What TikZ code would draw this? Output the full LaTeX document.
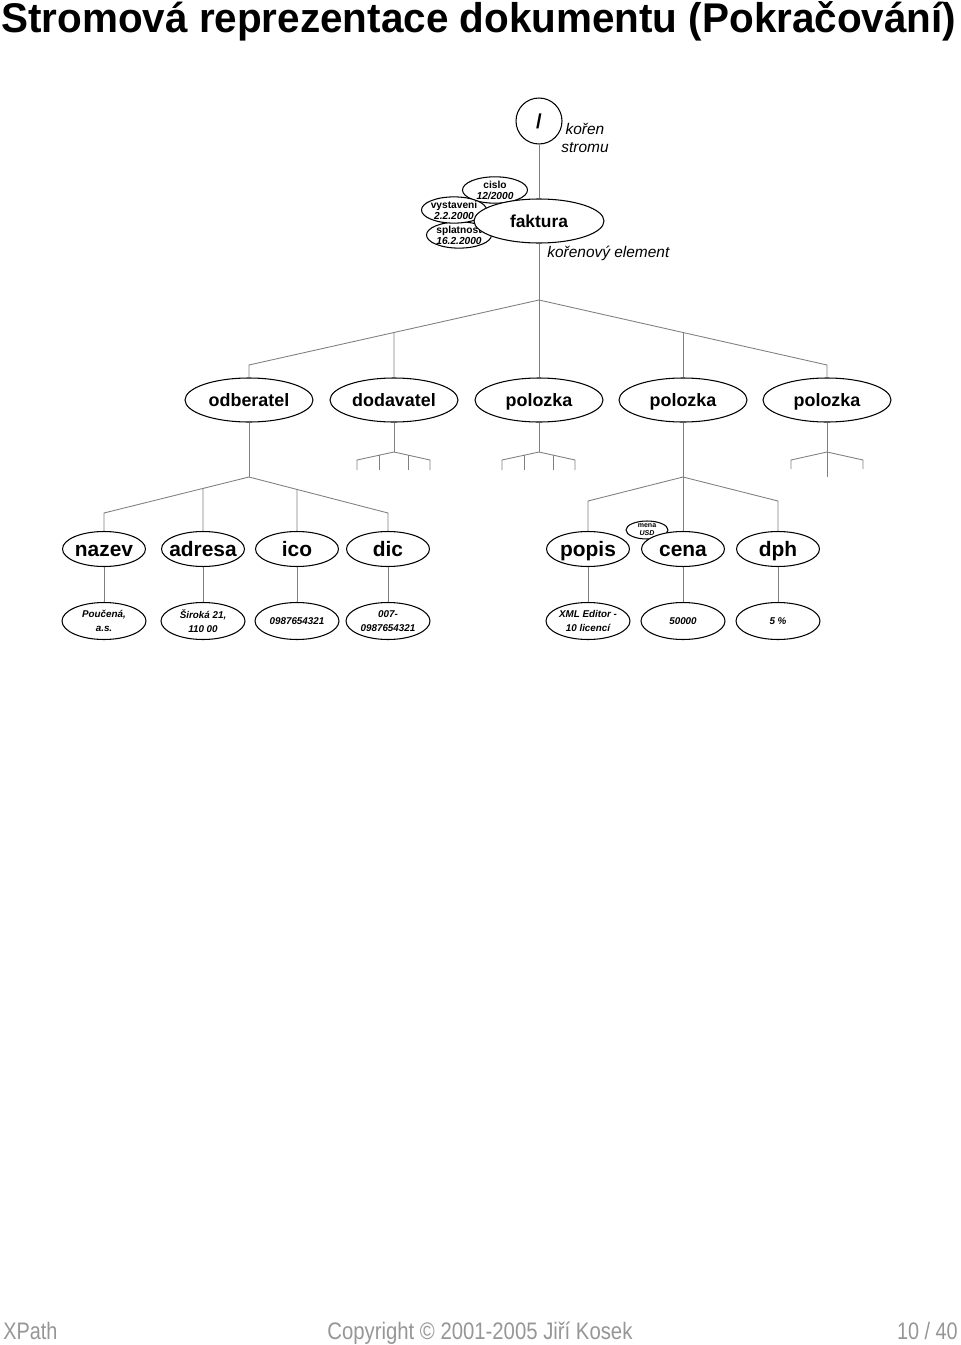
\documentclass[tikz,border=0pt]{standalone}
\usepackage{graphicx}
\usepackage{fontspec}
\setmainfont{Liberation Sans}
\usetikzlibrary{shapes.geometric, calc}
\usepackage{xcolor}
\definecolor{linkcolor}{RGB}{128,128,128}
\definecolor{footcolor}{RGB}{150,150,150}

\begin{document}
\begin{tikzpicture}[x=0.02cm,y=-0.02cm]
  \tikzset{
    elem/.style={
      ellipse, draw, fill=white,
      line width=0.6pt, inner xsep=-6pt, inner ysep=0pt,
      minimum width=2.56cm,
      minimum height=0.88cm,
      text height=0.94em, text depth=0.2em,
      font=\bfseries\fontsize{10.2}{12}\selectfont
    },
    child/.style={
      ellipse, draw, fill=white,
      line width=0.6pt, inner xsep=-8pt, inner ysep=-3pt,
      minimum width=1.66cm,
      minimum height=0.7cm,
      text height=1.0em, text depth=0.2em,
      font=\bfseries\fontsize{11.9}{13}\selectfont
    },
    value/.style={
      ellipse, draw, fill=white,
      line width=0.6pt, inner xsep=-6pt, inner ysep=0pt,
      minimum width=1.68cm,
      minimum height=0.74cm,
      align=center,
      font=\bfseries\itshape\fontsize{5.6}{8}\selectfont
    },
    attr/.style={
      ellipse, draw, fill=white,
      line width=0.6pt, inner xsep=-4pt, inner ysep=0pt,
      minimum width=1.3cm,
      minimum height=0.5cm,
      align=center,
      font=\bfseries\fontsize{5.8}{6.3}\selectfont
    },
    note/.style={
      font=\itshape\fontsize{8.8}{10.2}\selectfont,
      align=center, inner sep=0pt
    },
    footer/.style={
      anchor=base, inner sep=0pt, text=footcolor,
      font=\fontsize{13.6}{15}\selectfont
    },
    link/.style={draw=linkcolor, line width=0.5pt}
  }
  \useasboundingbox (0,0) rectangle (960,1345);

  % Title
  \node[anchor=base west, inner sep=0pt] (title) at (1,33)
    {\resizebox{19.1cm}{0.62cm}{\bfseries Stromová reprezentace dokumentu (Pokračování)}};

  % Root of the tree
  \node[circle, draw, line width=0.6pt, minimum size=0.92cm, inner sep=0pt,
        font=\bfseries\fontsize{11.5}{12}\selectfont] (root) at (539,121) {/};
  \node[note] (rootnote) at (585,138) {kořen\\stromu};

  % Attributes of the root element
  \node[attr] (cislo) at (495,190) {cislo\\\textit{12/2000}};
  \node[attr] (splatnost) at (459,235) {splatnost\\\textit{16.2.2000}};
  \node[attr, minimum height=0.52cm] (vystaveni) at (454,210) {vystaveni\\\textit{2.2.2000}};

  % Root element
  \node[elem, minimum width=2.6cm, text height=0.72em, text depth=0em,
        font=\bfseries\fontsize{9.9}{12}\selectfont] (faktura) at (539,221) {faktura};
  \node[note, anchor=base west] (fakturanote) at (547,257) {kořenový element};

  \draw[link] (root) -- (faktura);

  % First level
  \node[elem] (odberatel) at (249,400) {odberatel};
  \node[elem] (dodavatel) at (394,400) {dodavatel};
  \node[elem] (polozkaA) at (539,400) {polozka};
  \node[elem] (polozkaB) at (683,400) {polozka};
  \node[elem] (polozkaC) at (827,400) {polozka};

  \coordinate (fk) at (539,300);
  \coordinate (fkL) at (249,365);
  \coordinate (fkR) at (827,365);
  \draw[link] (faktura) -- (fk);
  \draw[link] (odberatel) -- (fkL) -- (fk) -- (fkR) -- (polozkaC);
  \draw[link] (dodavatel) -- ($(fk)!0.5!(fkL)$);
  \draw[link] (polozkaA) -- (fk);
  \draw[link] (polozkaB) -- ($(fk)!0.5!(fkR)$);

  % Collapsed children of dodavatel
  \coordinate (dv) at (394,452);
  \coordinate (dvL) at (357,460);
  \coordinate (dvR) at (430,460);
  \coordinate (dv1) at (379,455.2);
  \coordinate (dv2) at (408,455);
  \draw[link] (dodavatel) -- (dv);
  \draw[link] (357,470) -- (dvL) -- (dv) -- (dvR) -- (430,470);
  \draw[link] (dv1) -- (379,470);
  \draw[link] (dv2) -- (408,470);

  % Collapsed children of the first polozka
  \coordinate (pa) at (539,452);
  \coordinate (paL) at (502,460);
  \coordinate (paR) at (575,460);
  \coordinate (pa1) at (524,455.2);
  \coordinate (pa2) at (553,455.1);
  \draw[link] (polozkaA) -- (pa);
  \draw[link] (502,470) -- (paL) -- (pa) -- (paR) -- (575,470);
  \draw[link] (pa1) -- (524,470);
  \draw[link] (pa2) -- (553,470);

  % Collapsed children of the last polozka
  \coordinate (pc) at (827,452);
  \coordinate (pcL) at (791,460);
  \coordinate (pcR) at (863,460);
  \draw[link] (polozkaC) -- (827,477);
  \draw[link] (791,469) -- (pcL) -- (pc) -- (pcR) -- (863,469);

  % Children of odberatel
  \node[child] (nazev) at (104,549) {nazev};
  \node[child] (adresa) at (203,549) {adresa};
  \node[child] (ico) at (297,549) {ico};
  \node[child] (dic) at (388,549) {dic};

  \coordinate (ob) at (249,477);
  \coordinate (obL) at (104,513);
  \coordinate (obR) at (388,513);
  \draw[link] (odberatel) -- (ob);
  \draw[link] (nazev) -- (obL) -- (ob) -- (obR) -- (dic);
  \draw[link] (adresa) -- (intersection of ob--obL and adresa.north--adresa.south);
  \draw[link] (ico) -- (intersection of ob--obR and ico.north--ico.south);

  % Children of the second polozka
  \node[attr, minimum width=0.84cm, minimum height=0.36cm,
        font=\bfseries\fontsize{4}{4.6}\selectfont] (mena) at (647,530) {mena\\\textit{USD}};
  \node[child] (popis) at (588,549) {popis};
  \node[child] (cena) at (683,549) {cena};
  \node[child] (dph) at (778,549) {dph};

  \coordinate (pb) at (683,477);
  \coordinate (pbL) at (588,501);
  \coordinate (pbR) at (778,501);
  \draw[link] (polozkaB) -- (pb);
  \draw[link] (popis) -- (pbL) -- (pb) -- (pbR) -- (dph);
  \draw[link] (cena) -- (pb);

  % Text values
  \node[value] (nazevval) at (104,621) {Poučená,\\a.s.};
  \node[value] (adresaval) at (203,621) {Široká 21,\\110 00};
  \node[value] (icoval) at (297,621) {0987654321};
  \node[value] (dicval) at (388,621) {007-\\0987654321};
  \node[value] (popisval) at (588,621) {XML Editor -\\10 licencí};
  \node[value] (cenaval) at (683,621) {50000};
  \node[value] (dphval) at (778,621) {5 \%};

  \draw[link] (nazev) -- (nazevval);
  \draw[link] (adresa) -- (adresaval);
  \draw[link] (ico) -- (icoval);
  \draw[link] (dic) -- (dicval);
  \draw[link] (popis) -- (popisval);
  \draw[link] (cena) -- (cenaval);
  \draw[link] (dph) -- (dphval);

  % Footer
  \node[footer, anchor=base west] (footL) at (3,1339) {\scalebox{0.83}[1]{XPath}};
  \node[footer, anchor=base west] (footC) at (327,1339) {\scalebox{0.85}[1]{Copyright © 2001-2005 Jiří Kosek}};
  \node[footer, anchor=base east] (footR) at (958,1339) {\scalebox{0.83}[1]{10 / 40}};
\end{tikzpicture}
\end{document}
